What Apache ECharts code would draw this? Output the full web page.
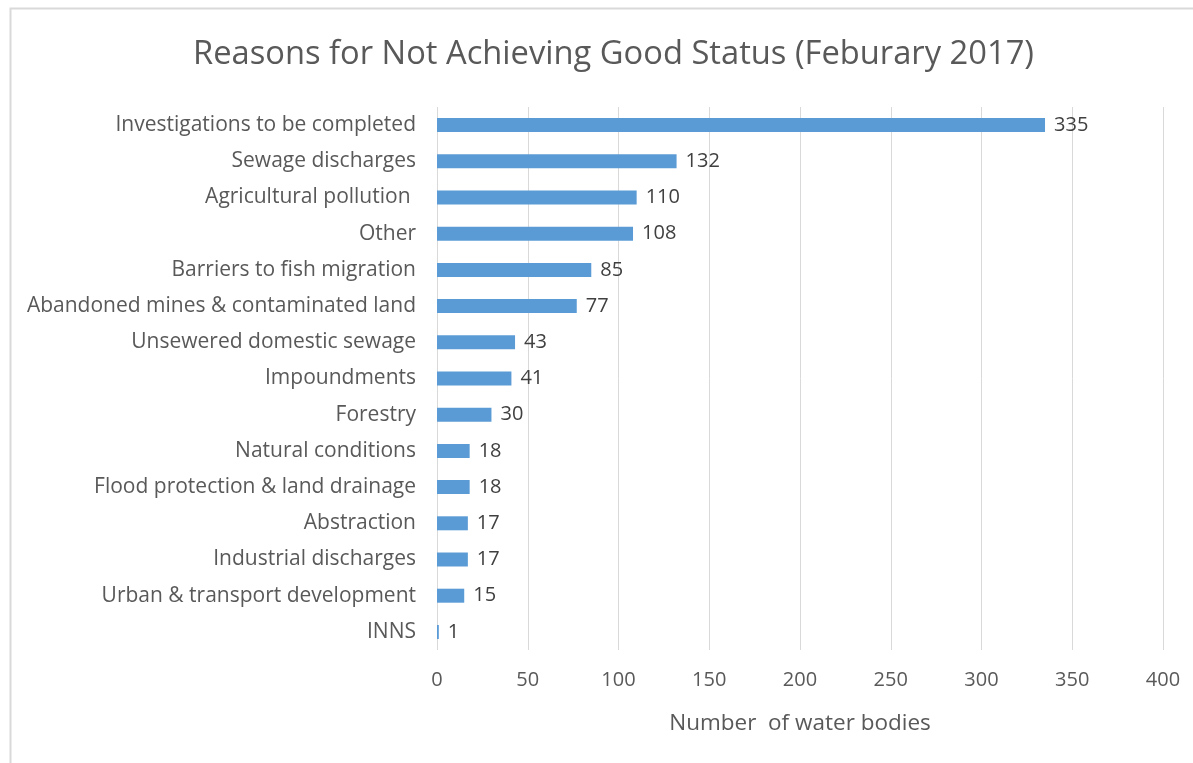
<!DOCTYPE html>
<html>
<head>
<meta charset="utf-8">
<script src="https://cdn.jsdelivr.net/npm/echarts@6/dist/echarts.min.js"></script>
<style>
html,body{margin:0;padding:0;background:#fff;}
#chart{width:1193px;height:763px;}
</style>
</head>
<body>
<div id="chart"></div>
<script>
const titleText = 'Reasons for Not Achieving Good Status (Feburary 2017)';
const categories = [
  'Investigations to be completed',
  'Sewage discharges',
  'Agricultural pollution ',
  'Other',
  'Barriers to fish migration',
  'Abandoned mines & contaminated land',
  'Unsewered domestic sewage',
  'Impoundments',
  'Forestry',
  'Natural conditions',
  'Flood protection & land drainage',
  'Abstraction',
  'Industrial discharges',
  'Urban & transport development',
  'INNS'
];
const values = [335, 132, 110, 108, 85, 77, 43, 41, 30, 18, 18, 17, 17, 15, 1];
const xAxisName = 'Number  of water bodies';

const FONT = 'Open Sans';
const chart = echarts.init(document.getElementById('chart'), null, {renderer: 'canvas'});
chart.setOption({
  backgroundColor: '#ffffff',
  animation: false,
  graphic: [{
    type: 'rect',
    shape: {x: 10.5, y: 8.5, width: 1300, height: 900},
    style: {fill: 'none', stroke: '#d9d9d9', lineWidth: 2},
    silent: true
  }],
  title: {
    text: titleText,
    left: 188,
    top: 33,
    textStyle: {fontFamily: FONT, fontSize: 32.7, fontWeight: 'normal', color: '#595959'}
  },
  grid: {left: 437, right: 30, top: 107, bottom: 113, containLabel: false},
  xAxis: {
    type: 'value',
    min: 0, max: 400, interval: 50,
    name: xAxisName,
    nameLocation: 'middle',
    nameGap: 62,
    nameTextStyle: {fontFamily: FONT, fontSize: 22.5, color: '#595959'},
    axisLine: {show: false},
    axisTick: {show: false},
    axisLabel: {fontFamily: FONT, fontSize: 20, color: '#595959', margin: 20},
    splitLine: {show: true, lineStyle: {color: '#d9d9d9', width: 1}}
  },
  yAxis: {
    type: 'category',
    data: categories,
    inverse: true,
    axisLine: {show: false},
    axisTick: {show: false},
    axisLabel: {fontFamily: FONT, fontSize: 21, color: '#595959', margin: 21}
  },
  series: [{
    type: 'bar',
    data: values,
    barWidth: 14,
    itemStyle: {color: '#5b9bd5'},
    label: {show: true, position: 'right', distance: 9, fontFamily: FONT, fontSize: 20, color: '#404040'}
  }]
});
</script>
</body>
</html>
